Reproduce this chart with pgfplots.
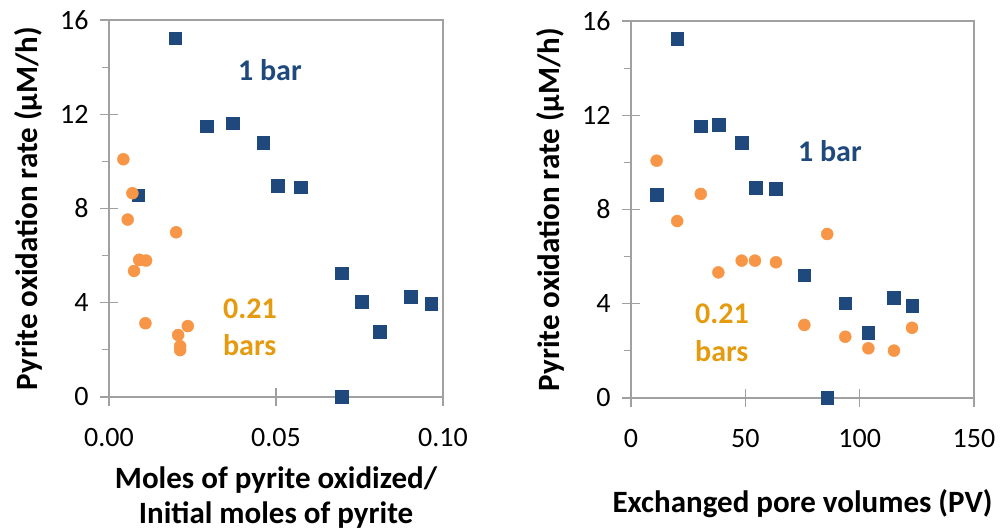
\documentclass[border=0pt]{standalone}
\usepackage{fontspec}
\setmainfont{Carlito}
\usepackage{pgfplots}
\pgfplotsset{compat=1.18}
\definecolor{sqblue}{RGB}{31,73,125}
\definecolor{dotorange}{RGB}{247,150,70}
\definecolor{txtorange}{RGB}{228,155,15}
\definecolor{axgray}{RGB}{160,160,160}
\tikzset{annot/.style={font=\bfseries\fontsize{30}{36}\selectfont, inner sep=0pt, anchor=base west}}
\pgfplotsset{
 myax/.style={
  scale only axis, height=377pt, ymin=0, ymax=16, ytick={0,4,...,16},
  tick pos=left, tick align=center, major tick length=18pt,
  extra y ticks={2,6,10,14}, extra y tick labels={},
  extra y tick style={tick align=outside, major tick length=7pt},
  axis line style={axgray, line width=1.5pt},
  tick style={axgray, line width=1.2pt},
  tick label style={font=\fontsize{28}{34}\selectfont, black},
  xticklabel style={yshift=-19pt},
  yticklabel style={xshift=-8pt},
  /pgf/number format/assume math mode=true,
  label style={font=\bfseries\fontsize{31}{35}\selectfont, black},
  clip=false,
 },
 bluepts/.style={only marks, mark=square*, mark size=6.3pt, mark options={draw=sqblue, fill=sqblue}},
 orangepts/.style={only marks, mark=*, mark size=6pt, mark options={draw=dotorange, fill=dotorange}},
}
\begin{document}
\begin{tikzpicture}
\useasboundingbox (0,0) rectangle (1006pt,532pt);
\begin{axis}[myax, at={(109pt,135pt)}, anchor=south west, width=334pt,
  xmin=0, xmax=0.1, xtick={0,0.05,0.1}, scaled x ticks=false,
  xticklabel style={/pgf/number format/.cd, fixed, fixed zerofill, precision=2},
  ylabel={Pyrite oxidation rate (µM/h)},
  xlabel={Moles of pyrite oxidized/\\Initial moles of pyrite},
  xlabel style={align=center, at={(axis description cs:0.5,-0.266)}, anchor=center},
  ylabel style={at={(axis description cs:-0.24,0.5)}, anchor=center}]
\addplot[bluepts] coordinates {
(0.0198,15.22) (0.0088,8.57) (0.0292,11.50) (0.0370,11.62) (0.0462,10.80)
(0.0505,8.96) (0.0574,8.90) (0.0697,5.25) (0.0757,4.05) (0.0811,2.77)
(0.0903,4.26) (0.0965,3.95) (0.0697,0)};
\addplot[orangepts] coordinates {
(0.0043,10.09) (0.0070,8.65) (0.0056,7.53) (0.0201,6.99) (0.0091,5.82)
(0.0111,5.79) (0.0091,5.82) (0.0075,5.35) (0.0109,3.13) (0.0236,3.01)
(0.0207,2.63) (0.0213,2.16) (0.0213,1.99)};
\node[annot, text=sqblue] at (axis cs:0.0386,13.45) {1 bar};
\node[annot, text=txtorange] at (axis cs:0.0341,3.35) {0.21};
\node[annot, text=txtorange] at (axis cs:0.0341,1.74) {bars};
\end{axis}
\begin{axis}[myax, at={(631pt,134pt)}, anchor=south west, width=343pt,
  xmin=0, xmax=150, xtick={0,50,100,150},
  ylabel={Pyrite oxidation rate (µM/h)},
  xlabel={Exchanged pore volumes (PV)},
  xlabel style={at={(axis description cs:0.5,-0.28)}, anchor=center},
  ylabel style={at={(axis description cs:-0.236,0.5)}, anchor=center}]
\addplot[bluepts] coordinates {
(20.2,15.26) (11.2,8.62) (30.5,11.54) (38.3,11.60) (48.4,10.84) (54.5,8.93)
(63.4,8.87) (75.8,5.22) (93.7,4.02) (103.8,2.77) (115.0,4.26) (122.9,3.92) (85.8,0)};
\addplot[orangepts] coordinates {
(11.2,10.07) (30.5,8.66) (20.2,7.51) (85.8,6.96) (38.2,5.33) (48.4,5.83)
(54.2,5.83) (63.4,5.76) (75.8,3.10) (93.7,2.60) (103.8,2.11) (115.0,2.01) (122.9,2.98)};
\node[annot, text=sqblue] at (axis cs:73.0,10.02) {1 bar};
\node[annot, text=txtorange] at (axis cs:28.0,3.18) {0.21};
\node[annot, text=txtorange] at (axis cs:28.0,1.53) {bars};
\end{axis}
\end{tikzpicture}
\end{document}
